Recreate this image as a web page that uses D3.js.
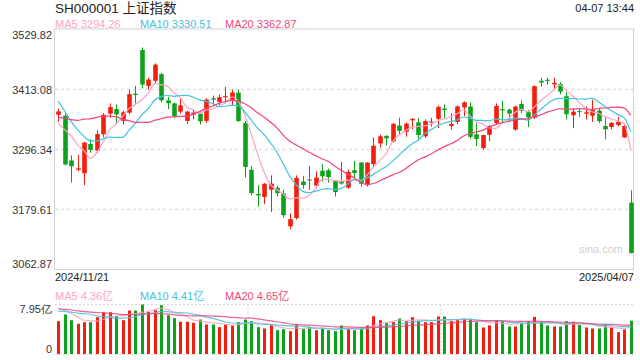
<!DOCTYPE html>
<html><head><meta charset="utf-8">
<script src="https://cdn.jsdelivr.net/npm/d3@7/dist/d3.min.js"></script>
<style>
html,body{margin:0;padding:0;background:#fff;}
svg{display:block;font-family:"Liberation Sans",Arial,"Noto Sans CJK SC",sans-serif;}
</style></head>
<body>
<svg id="c" width="640" height="360"></svg>
<script>
// ---------- data ----------
const title = "SH000001 上证指数";
const stamp = "04-07 13:44";
const dates = ["2024/11/21","2024/11/22","2024/11/25","2024/11/26","2024/11/27","2024/11/28","2024/11/29",
"2024/12/02","2024/12/03","2024/12/04","2024/12/05","2024/12/06","2024/12/09","2024/12/10","2024/12/11","2024/12/12","2024/12/13",
"2024/12/16","2024/12/17","2024/12/18","2024/12/19","2024/12/20","2024/12/23","2024/12/24","2024/12/25","2024/12/26","2024/12/27",
"2024/12/30","2024/12/31","2025/01/02","2025/01/03","2025/01/06","2025/01/07","2025/01/08","2025/01/09","2025/01/10","2025/01/13",
"2025/01/14","2025/01/15","2025/01/16","2025/01/17","2025/01/20","2025/01/21","2025/01/22","2025/01/23","2025/01/24","2025/01/27",
"2025/02/05","2025/02/06","2025/02/07","2025/02/10","2025/02/11","2025/02/12","2025/02/13","2025/02/14","2025/02/17","2025/02/18",
"2025/02/19","2025/02/20","2025/02/21","2025/02/24","2025/02/25","2025/02/26","2025/02/27","2025/02/28","2025/03/03","2025/03/04",
"2025/03/05","2025/03/06","2025/03/07","2025/03/10","2025/03/11","2025/03/12","2025/03/13","2025/03/14","2025/03/17","2025/03/18",
"2025/03/19","2025/03/20","2025/03/21","2025/03/24","2025/03/25","2025/03/26","2025/03/27","2025/03/28","2025/03/31","2025/04/01",
"2025/04/02","2025/04/03","2025/04/07"];
const opens = [3364,3362,3275,3257,3250,3307,3294,3326,3366,3375,3352,3368,3405,3490,3420,3430,3443,3392,3386,3370,3352,3364,3366,3352,3396,3389,3398,3393,3407,
3347.9,3257,3210,3204,3218,3222,3211,3147,3163,3234,3238,3226,3255,3256,3236,3235,3222,3256,3271,3227,3268,3308,3323,3312,3343,3331,3353,3349,
3322,3349,3356,3376,3342,3350,3378,3380,3326,3299,3325,3348,3375,3374,3335,3385,3369,3358,3430,3432,3423,3424,3400,3363,3371,3366,3362,3372,3342,3340,3344,3320,3193];
const highs = [3376,3366,3285,3286,3311,3316,3334,3367,3386,3384,3372,3413,3420,3494.86,3436,3464,3445,3399,3388,3395,3372,3375,3368,3396,3401,3403,3418,3413,3413,
3351.8,3264,3227,3231,3246,3226,3218,3172,3246,3245,3264,3254,3268,3259,3237,3272,3257,3274,3272,3272,3320,3325,3324,3348,3358,3349,3358,3357,
3355,3358,3382,3384,3367,3382,3390,3388,3348,3325,3344,3386,3391,3376,3382,3392,3373,3421,3436,3436,3436,3428,3408,3376,3376,3380,3393,3376,3360,3349,3360,3347,3217];
const lows = [3350,3265,3232,3254,3227,3290,3290,3320,3358,3346,3345,3365,3386,3415,3413,3425,3388,3375,3357,3366,3346,3355,3345,3348,3380,3383,3386,3381,3350,
3242,3207,3185,3190,3175,3205,3164,3141,3160,3220,3218,3221,3234,3232,3205,3228,3220,3241,3224,3224,3263,3300,3304,3310,3325,3321,3336,3314,
3319,3341,3338,3356,3335,3346,3361,3317,3303,3296,3313,3345,3350,3350,3333,3367,3340,3356,3419,3422,3413,3404,3355,3338,3360,3355,3350,3348,3316,3336,3341,3319,3094];
const closes = [3370.40,3267.19,3263.76,3259.76,3309.78,3295.70,3326.46,3363.98,3378.81,3364.65,3368.86,3404.08,3402.53,3422.66,3432.49,3461.50,3391.88,
3386.33,3361.49,3382.21,3370.03,3368.07,3351.26,3393.53,3393.35,3398.08,3400.14,3407.33,3351.76,3262.56,3211.43,3206.92,3229.64,3230.17,3211.39,
3168.52,3160.76,3240.94,3227.12,3236.03,3241.82,3244.38,3242.62,3213.62,3230.16,3252.63,3250.60,3229.49,3270.66,3303.67,3322.17,3318.06,3346.39,
3332.48,3346.72,3355.83,3324.49,3351.54,3350.78,3379.11,3373.03,3346.04,3380.21,3388.06,3320.90,3316.93,3324.49,3341.96,3381.10,3372.55,3366.16,
3379.83,3371.92,3358.73,3419.56,3426.43,3429.76,3426.13,3408.95,3364.83,3370.03,3369.98,3368.70,3373.75,3351.31,3335.75,3348.44,3350.13,3342.01,3094.97];
// closes of the 19 sessions before the first visible one (for the moving averages)
const priorCloses = [3299.70,3322.20,3286.41,3266.24,3279.82,3272.01,3310.21,3386.99,3383.81,3470.66,3452.30,3470.07,3421.97,3439.28,3379.84,3330.73,3323.85,3346.01,3367.99];
// volume, 亿
const volumes = [5.27,6.34,5.43,4.85,5.11,5.11,5.91,6.71,6.71,6.07,5.43,6.98,6.98,7.95,6.77,7.03,7.83,6.23,5.75,5.17,5.17,5.01,5.54,4.74,4.74,4.31,4.74,4.58,5.11,
5.54,5.27,4.31,4.10,4.63,3.83,3.99,3.67,4.74,4.05,4.37,3.83,4.05,3.83,3.67,4.58,4.05,3.83,4.10,4.58,6.07,5.43,5.01,5.11,5.70,5.27,5.91,5.35,
5.11,5.11,6.02,6.02,5.27,5.43,5.70,5.65,5.11,4.26,4.58,5.43,5.27,4.42,4.42,5.01,5.27,5.96,5.11,4.58,4.42,4.42,5.27,5.19,4.65,4.26,4.10,4.10,4.74,4.26,3.51,3.94,5.35];
const priorVolumes = [7.6,7.3,7.8,7.2,7.0,7.4,7.6,8.2,7.9,7.5,6.9,6.7,6.2,6.0,6.2,8.4,7.8,7.6,7.9];
const priceTicks = [3529.82,3413.08,3296.34,3179.61,3062.87];
const volTicks = [7.95,0];
const maPeriods = [5,10,20];
const maColors = ["#ffa3c2","#3fc3df","#f0457c"];

// ---------- layout ----------
const L=55, R=634, pTop=29.5, pBot=269.5, vTop=304.5, vBot=354;
const svg = d3.select("#c");
const n = closes.length;
const idx = d3.range(n);
const x = d3.scalePoint().domain(idx).range([L,R]).padding(0.5);
const y = d3.scaleLinear().domain([priceTicks[4],priceTicks[0]]).range([pBot,pTop]);
const yv = d3.scaleLinear().domain([0,d3.max(volumes)]).range([vBot,vTop]);
const RED="#f31f0c", GREEN="#0da21b";
const col = i => closes[i]>=opens[i] ? RED : GREEN;

function ma(arr, prior, p){
  const all = prior.concat(arr), off = prior.length;
  return arr.map((_,i)=>d3.mean(all.slice(off+i-p+1, off+i+1)));
}

// header
svg.append("text").attr("x",L).attr("y",13).attr("font-size",13.5).attr("fill","#222").text(title);
svg.append("text").attr("x",R).attr("y",12).attr("font-size",11).attr("fill","#222").attr("text-anchor","end").text(stamp);

const priceMA = maPeriods.map(p=>ma(closes,priorCloses,p));
const volMA = maPeriods.map(p=>ma(volumes,priorVolumes,p));
const legX = [L, 140, 225];
maPeriods.forEach((p,k)=>{
  svg.append("text").attr("x",legX[k]).attr("y",28).attr("font-size",11).attr("fill",maColors[k])
    .text(`MA${p} ${priceMA[k][n-1].toFixed(2)}`);
  svg.append("text").attr("x",legX[k]).attr("y",300).attr("font-size",11).attr("fill",maColors[k])
    .text(`MA${p} ${volMA[k][n-1].toFixed(2)}亿`);
});

// price grid
svg.append("g").selectAll("line").data(priceTicks.slice(1,4)).join("line")
  .attr("x1",L).attr("x2",R).attr("y1",d=>y(d)).attr("y2",d=>y(d))
  .attr("stroke","#e0e0e0").attr("stroke-width",1.6).attr("stroke-dasharray","3,3");
svg.append("rect").attr("x",L-0.5).attr("y",pTop-0.5).attr("width",R-L).attr("height",pBot-pTop+0.5)
  .attr("fill","none").attr("stroke","#d2d2d2");

// y axis labels
const ya = svg.append("g").attr("transform",`translate(${L-3},0)`)
  .call(d3.axisLeft(y).tickValues(priceTicks).tickSize(0).tickPadding(0).tickFormat(d3.format(".2f")));
ya.select(".domain").remove();
ya.selectAll("text").attr("font-size",11).attr("fill","#333").attr("font-family","'Liberation Sans',Arial,sans-serif")
  .attr("dy",(d,i)=> i===0? "0.85em" : (i===4? "-0.15em":"0.32em"));

// date labels
svg.append("text").attr("x",L).attr("y",281).attr("font-size",11).attr("fill","#222").text(dates[0]);
svg.append("text").attr("x",R).attr("y",281).attr("font-size",11).attr("fill","#222").attr("text-anchor","end").text(dates[n-1]);

// watermark
svg.append("text").attr("x",623).attr("y",253).attr("font-size",11).attr("fill","#d0d0d0").attr("text-anchor","end").text("sina.com");

// candles
const bw = 4.6;
const cg = svg.append("g");
cg.selectAll("line").data(idx).join("line")
  .attr("x1",i=>Math.round(x(i))+0.5).attr("x2",i=>Math.round(x(i))+0.5)
  .attr("y1",i=>y(highs[i])).attr("y2",i=>y(lows[i])).attr("stroke",col).attr("stroke-width",1);
cg.selectAll("rect").data(idx).join("rect")
  .attr("x",i=>Math.round(x(i))+0.5-bw/2).attr("width",bw)
  .attr("y",i=>y(Math.max(opens[i],closes[i])))
  .attr("height",i=>Math.max(1,Math.abs(y(opens[i])-y(closes[i]))))
  .attr("fill",col);

// price MA lines
const line = d3.line().x((d,i)=>x(i)).y(d=>y(d)).curve(d3.curveMonotoneX);
priceMA.forEach((arr,k)=>{
  svg.append("path").datum(arr).attr("d",line).attr("fill","none").attr("stroke",maColors[k]).attr("stroke-width",1.2);
});

// volume panel grid
const vg = svg.append("g");
[vTop,vBot+0.5].forEach(yy=>vg.append("line").attr("x1",L).attr("x2",R).attr("y1",yy).attr("y2",yy)
  .attr("stroke","#d8d8d8").attr("stroke-width",1.2).attr("stroke-dasharray","2,2"));
[1,2].forEach(k=>{const xx=L+(R-L)*k/3; vg.append("line").attr("x1",xx).attr("x2",xx).attr("y1",vTop).attr("y2",vBot)
  .attr("stroke","#d8d8d8").attr("stroke-width",1.2).attr("stroke-dasharray","2,2");});

// volume axis labels
const va = svg.append("g").attr("transform",`translate(${L-3},0)`)
  .call(d3.axisLeft(yv).tickValues(volTicks).tickSize(0).tickPadding(0).tickFormat(d=>d===0?"0":d.toFixed(2)+"亿"));
va.select(".domain").remove();
va.selectAll("text").attr("font-size",11).attr("fill","#333")
  .attr("dy",(d)=> d===0? "-0.1em" : "0.75em");

// volume bars
svg.append("g").selectAll("rect").data(idx).join("rect")
  .attr("x",i=>Math.round(x(i))-1).attr("width",3)
  .attr("y",i=>yv(volumes[i])).attr("height",i=>vBot-yv(volumes[i]))
  .attr("fill",col);

// volume MA lines
const vline = d3.line().x((d,i)=>x(i)).y(d=>yv(d)).curve(d3.curveMonotoneX);
volMA.forEach((arr,k)=>{
  svg.append("path").datum(arr).attr("d",vline).attr("fill","none").attr("stroke",maColors[k]).attr("stroke-width",1.2).attr("opacity",0.85);
});
</script>
</body></html>
